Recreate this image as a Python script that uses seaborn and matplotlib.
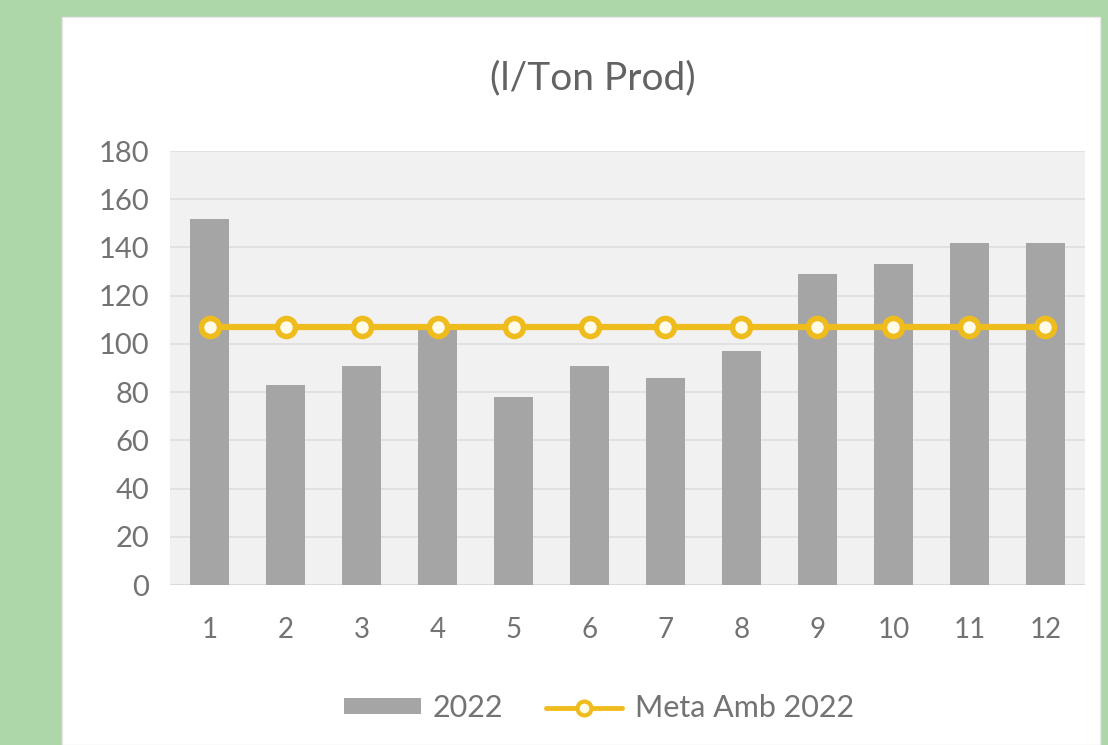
import matplotlib
matplotlib.use("Agg")
import matplotlib.pyplot as plt
from matplotlib.patches import Rectangle, Patch
from matplotlib.lines import Line2D
import seaborn as sns
import pandas as pd

# Monthly water use (l/Ton Prod) and the environmental target for 2022
months = ["1", "2", "3", "4", "5", "6", "7", "8", "9", "10", "11", "12"]
consumo_2022 = [152, 83, 91, 106, 78, 91, 86, 97, 129, 133, 142, 142]
meta_2022 = [107, 107, 107, 107, 107, 107, 107, 107, 107, 107, 107, 107]
y_ticks = [0, 20, 40, 60, 80, 100, 120, 140, 160, 180]

df = pd.DataFrame({"mes": months, "2022": consumo_2022, "meta": meta_2022})

sns.set_theme(style="white")
plt.rcParams["font.family"] = ["Lato", "DejaVu Sans"]

bar_color = "#a5a5a5"
gold = "#efbc1e"
text_color = "#737373"

W, H = 1108, 745
fig = plt.figure(figsize=(W / 100, H / 100), dpi=100)
fig.patch.set_facecolor("#aed7a9")

# white chart card
fig.add_artist(Rectangle((62 / W, 0), (1100 - 62) / W, (H - 17) / H,
                         transform=fig.transFigure, facecolor="white",
                         edgecolor="#e8e8e8", linewidth=1, zorder=0))

ax = fig.add_axes([170 / W, 160 / H, (1085 - 170) / W, (585 - 151) / H])
ax.set_facecolor("#f1f1f1")

sns.barplot(data=df, x="mes", y="2022", color=bar_color, width=0.52,
            saturation=1, linewidth=0, edgecolor="none", ax=ax, zorder=3)
sns.pointplot(data=df, x="mes", y="meta", color=gold, ax=ax,
              markers="o", linestyles="-", linewidth=4.5,
              markersize=13, markerfacecolor="#fffbe8",
              markeredgecolor=gold, markeredgewidth=4, zorder=4)

ax.set_ylim(0, 180)
ax.set_yticks(y_ticks)
ax.set_yticklabels([str(v) for v in y_ticks])
ax.set_xlim(-0.52, len(months) - 0.48)
ax.grid(axis="y", color="#dedede", linewidth=1.2, zorder=0)
ax.set_axisbelow(True)
for s in ax.spines.values():
    s.set_visible(False)
ax.axhline(0, color="#d9d9d9", linewidth=1.2, zorder=2)

ax.set_xlabel("")
ax.set_ylabel("")
ax.tick_params(axis="y", length=0, pad=15, labelsize=21, labelcolor=text_color)
ax.tick_params(axis="x", length=0, pad=23, labelsize=20, labelcolor=text_color)

fig.text(593 / W, 1 - 78 / H, "(l/Ton Prod)", ha="center", va="center",
         fontsize=28, color="#636363")

handles = [
    Patch(facecolor=bar_color, edgecolor="none"),
    Line2D([0], [0], color=gold, linewidth=3.5, marker="o", markersize=10,
           markerfacecolor="#fffbe8", markeredgecolor=gold, markeredgewidth=3),
]
fig.legend(handles, ["2022", "Meta Amb 2022"], loc="center",
           bbox_to_anchor=(599 / W, 1 - 708 / H), ncol=2, frameon=False,
           fontsize=22, labelcolor=text_color, handlelength=2.5,
           handleheight=0.4, columnspacing=1.4, handletextpad=0.4)

fig.savefig("out.png", dpi=100, facecolor=fig.get_facecolor())
